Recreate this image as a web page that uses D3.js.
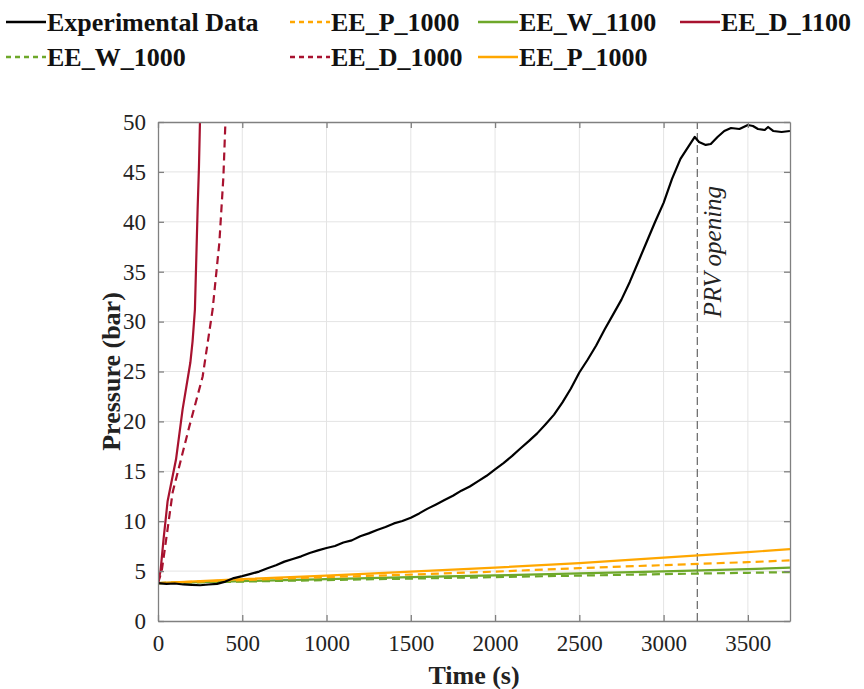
<!DOCTYPE html>
<html>
<head>
<meta charset="utf-8">
<script src="https://cdn.jsdelivr.net/npm/d3@7"></script>
<style>
  body { margin: 0; background: #fff; }
  svg text { font-family: "Liberation Serif", "Tinos", "Times New Roman", "DejaVu Serif", serif; }
</style>
</head>
<body>
<div class="canva"></div>
<script>
// experimental pressure trace (s, bar)
const expTime = [0, 50, 100, 150, 200, 250, 300, 350, 400, 450, 500, 550, 600, 650, 700, 750, 800, 850, 900, 950,
  1000, 1050, 1100, 1150, 1200, 1250, 1300, 1350, 1400, 1450, 1500, 1550, 1600, 1650, 1700, 1750, 1800, 1850, 1900, 1950,
  2000, 2050, 2100, 2150, 2200, 2250, 2300, 2350, 2400, 2450, 2500, 2550, 2600, 2650, 2700, 2750, 2800, 2850, 2900, 2950,
  3000, 3050, 3100, 3150, 3185, 3210, 3250, 3280, 3320, 3360, 3400, 3450, 3500, 3530, 3560, 3600, 3620, 3650, 3700, 3750];
const expP = [3.8, 3.72, 3.76, 3.66, 3.62, 3.58, 3.66, 3.72, 3.95, 4.3, 4.5, 4.72, 4.95, 5.28, 5.58, 5.95, 6.22, 6.48, 6.82, 7.08,
  7.32, 7.52, 7.86, 8.08, 8.5, 8.78, 9.12, 9.42, 9.78, 10.02, 10.35, 10.78, 11.26, 11.68, 12.12, 12.55, 13.06, 13.48, 14.02, 14.55,
  15.2, 15.82, 16.52, 17.28, 18.02, 18.8, 19.72, 20.68, 21.9, 23.3, 24.9, 26.2, 27.6, 29.2, 30.7, 32.2, 34.0, 36.0, 38.0, 40.0,
  41.9, 44.3, 46.3, 47.6, 48.5, 48.0, 47.7, 47.8, 48.5, 49.1, 49.4, 49.3, 49.7, 49.6, 49.3, 49.2, 49.5, 49.1, 49.0, 49.1];

// EE_D models (steep)
const d1100Time = [0, 15, 33, 57, 107, 146, 192, 205, 219, 235, 243, 249];
const d1100P = [3.8, 5.0, 8.2, 12.0, 16.2, 21.2, 25.9, 28.0, 31.2, 41.2, 45.5, 50];
const d1000Time = [0, 22, 47, 87, 186, 265, 324, 364, 388, 400];
const d1000P = [3.8, 5.0, 8.0, 12.9, 19.5, 24.5, 31.2, 37.9, 44.5, 50];

// EE_P / EE_W models (slow)
const slowTime = [0, 500, 1000, 1500, 2000, 2500, 3000, 3500, 3750];
const p1100P = [3.8, 4.2, 4.55, 4.95, 5.35, 5.8, 6.35, 6.9, 7.2];
const p1000P = [3.8, 4.1, 4.4, 4.65, 4.95, 5.3, 5.6, 5.9, 6.07];
const w1100P = [3.8, 4.0, 4.2, 4.4, 4.57, 4.77, 4.97, 5.2, 5.34];
const w1000P = [3.8, 3.95, 4.1, 4.25, 4.4, 4.55, 4.7, 4.83, 4.9];

const xTicks = [0, 500, 1000, 1500, 2000, 2500, 3000, 3500];
const yTicks = [0, 5, 10, 15, 20, 25, 30, 35, 40, 45, 50];
const prvTime = 3200;

const red = "#a8122f", orange = "#ffa700", green = "#6ea82a";

const series = [
  { name: "EE_W_1000", t: slowTime, p: w1000P, color: green, dash: "8,5" },
  { name: "EE_W_1100", t: slowTime, p: w1100P, color: green, dash: null },
  { name: "EE_P_1000", t: slowTime, p: p1000P, color: orange, dash: "8,5" },
  { name: "EE_P_1000", t: slowTime, p: p1100P, color: orange, dash: null },
  { name: "EE_D_1000", t: d1000Time, p: d1000P, color: red, dash: "8,5" },
  { name: "EE_D_1100", t: d1100Time, p: d1100P, color: red, dash: null },
  { name: "Experimental Data", t: expTime, p: expP, color: "#000", dash: null }
];

const width = 864, height = 689;
const margin = { top: 122, right: 74, bottom: 68, left: 158 };

const svg = d3.select(".canva").append("svg")
  .attr("width", width)
  .attr("height", height);

const x = d3.scaleLinear([0, 3750], [margin.left, width - margin.right]);
const y = d3.scaleLinear([0, 50], [height - margin.bottom, margin.top]);

// grid
svg.append("g")
  .selectAll("line.v")
  .data(xTicks.slice(1))
  .join("line")
  .attr("x1", d => x(d)).attr("x2", d => x(d))
  .attr("y1", y(0)).attr("y2", y(50))
  .attr("stroke", "#e4e4e4").attr("stroke-width", 1);
svg.append("g")
  .selectAll("line.h")
  .data(yTicks.slice(1, -1))
  .join("line")
  .attr("x1", x(0)).attr("x2", x(3750))
  .attr("y1", d => y(d)).attr("y2", d => y(d))
  .attr("stroke", "#e4e4e4").attr("stroke-width", 1);

svg.append("clipPath").attr("id", "clip")
  .append("rect")
  .attr("x", x(0)).attr("y", y(50) - 1)
  .attr("width", x(3750) - x(0)).attr("height", y(0) - y(50) + 1);

// PRV marker
svg.append("line")
  .attr("x1", x(prvTime)).attr("x2", x(prvTime))
  .attr("y1", y(0)).attr("y2", y(50))
  .attr("stroke", "#666").attr("stroke-width", 1.2)
  .attr("stroke-dasharray", "8,4");

svg.append("text")
  .attr("transform", `translate(${x(prvTime) + 24},${y(37)}) rotate(-90)`)
  .attr("text-anchor", "middle")
  .attr("font-style", "italic")
  .attr("font-size", 25)
  .attr("fill", "#222")
  .text("PRV opening");

const line = d3.line()
  .x(d => x(d[0]))
  .y(d => y(d[1]));

svg.append("g")
  .attr("clip-path", "url(#clip)")
  .selectAll("path")
  .data(series)
  .join("path")
  .attr("fill", "none")
  .attr("stroke", d => d.color)
  .attr("stroke-width", 2.2)
  .attr("stroke-dasharray", d => d.dash)
  .attr("stroke-linejoin", "round")
  .attr("d", d => line(d.t.map((t, i) => [t, d.p[i]])));

// axes (ticks inside, box)
const axisColor = "#808080";
svg.append("g")
  .attr("transform", `translate(0,${y(0)})`)
  .call(d3.axisBottom(x).tickValues(xTicks).tickFormat(d3.format("d")).tickSizeInner(-6).tickSizeOuter(0).tickPadding(14))
  .call(g => g.selectAll("path, line").attr("stroke", axisColor).attr("stroke-width", 1.3))
  .call(g => g.selectAll("text").attr("fill", "#222").attr("font-size", 23));

svg.append("g")
  .attr("transform", `translate(${x(0)},0)`)
  .call(d3.axisLeft(y).tickValues(yTicks).tickSizeInner(-6).tickSizeOuter(0).tickPadding(12))
  .call(g => g.selectAll("path, line").attr("stroke", axisColor).attr("stroke-width", 1.3))
  .call(g => g.selectAll("text").attr("fill", "#222").attr("font-size", 23));

svg.append("g")
  .attr("transform", `translate(0,${y(50)})`)
  .call(d3.axisTop(x).tickValues(xTicks).tickSizeInner(-6).tickSizeOuter(0).tickFormat(""))
  .call(g => g.selectAll("path, line").attr("stroke", axisColor).attr("stroke-width", 1.3));

svg.append("g")
  .attr("transform", `translate(${x(3750)},0)`)
  .call(d3.axisRight(y).tickValues(yTicks).tickSizeInner(-6).tickSizeOuter(0).tickFormat(""))
  .call(g => g.selectAll("path, line").attr("stroke", axisColor).attr("stroke-width", 1.3));

// axis titles
svg.append("text")
  .attr("x", (x(0) + x(3750)) / 2)
  .attr("y", 684)
  .attr("text-anchor", "middle")
  .attr("font-weight", "bold")
  .attr("font-size", 26)
  .attr("fill", "#222")
  .text("Time (s)");

svg.append("text")
  .attr("transform", `translate(120,${(y(0) + y(50)) / 2}) rotate(-90)`)
  .attr("text-anchor", "middle")
  .attr("font-weight", "bold")
  .attr("font-size", 26)
  .attr("fill", "#222")
  .text("Pressure (bar)");

// legend
const legendItems = [
  { s: series[6], col: 0, row: 0 },
  { s: series[2], col: 1, row: 0 },
  { s: series[1], col: 2, row: 0 },
  { s: series[5], col: 3, row: 0 },
  { s: series[0], col: 0, row: 1 },
  { s: series[4], col: 1, row: 1 },
  { s: series[3], col: 2, row: 1 }
];
const colX = [6, 290, 478, 680];
const rowY = [22, 57];

const leg = svg.append("g")
  .selectAll("g")
  .data(legendItems)
  .join("g")
  .attr("transform", d => `translate(${colX[d.col]},${rowY[d.row]})`);

leg.append("line")
  .attr("x1", 0).attr("x2", 40)
  .attr("stroke", d => d.s.color)
  .attr("stroke-width", 2.5)
  .attr("stroke-dasharray", d => d.s.dash ? "5,4" : null);

leg.append("text")
  .attr("x", 41)
  .attr("dy", "0.35em")
  .attr("font-weight", "bold")
  .attr("font-size", 26)
  .attr("fill", "#111")
  .text(d => d.s.name);
</script>
</body>
</html>
